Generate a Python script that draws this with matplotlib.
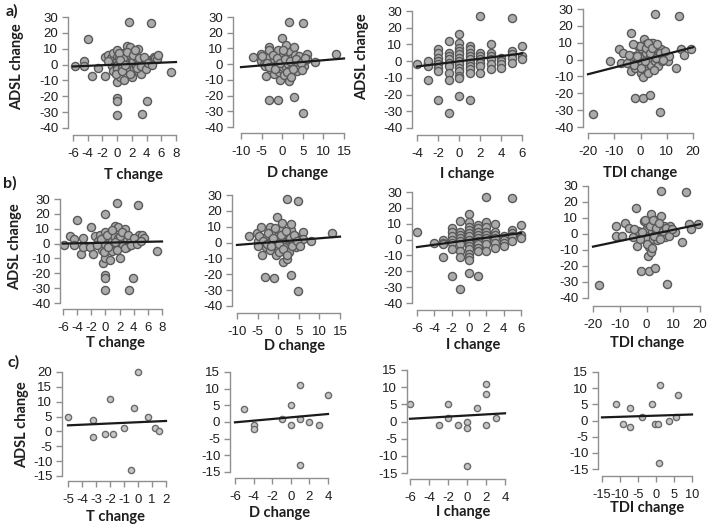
import numpy as np
import matplotlib
matplotlib.use('Agg')
import matplotlib.pyplot as plt

plt.rcParams['axes.unicode_minus'] = False

W, H = 708, 526

# ---- row a) ----
a_t_x = [-5.7, -4.5, -4.5, -4.0, -3.4, -2.6, -1.6, -1.6, -1.3, -1.0, -0.9, -0.7, -0.5, -0.5, -0.3,
         0, 0, 0, 0, 0, 0, 0, 0, 0, 0, 0.3, 0.4, 0.5, 0.6, 0.8, 0.9, 1.0, 1.1, 1.2, 1.3, 1.5,
         1.6, 1.6, 1.8, 1.8, 2.0, 2.0, 2.2, 2.3, 2.5, 2.5, 2.8, 2.9, 3.0, 3.2, 3.2, 3.4, 3.5,
         3.8, 4.1, 4.3, 4.5, 4.6, 4.7, 5.0, 5.2, 5.4, 5.6, 7.3,
         -1.2, -0.2, 0.2, 0.4, 0.7, 1.0, 1.4, 1.7, 2.1, 2.4, 2.7, 3.0, 3.3, 3.6, 3.9, 4.2, 4.8]
a_t_y = [-1, 2, -1, 16, -7, -2, -7, 5, 6, 2, 4, -1, 7, -4, 1,
         9, 5, 2, 0, -3, -6, -11, -21, -23, -32, 4, -8, 1, -2, 7, -10, 3, 5, -1, 12, -4,
         27, 1, 11, 6, -8, 3, 2, -2, -1, 5, 10, -4, 1, -6, 3, -31, 0,
         2, -23, 0, 3, 26, 3, 5, 4, 3.5, 6, -5,
         2, -6, 7, 3, -4, 0, 8, -6, 6, 9, -2, 4, -1, 5, -3, 1, 0]

a_d_x = [-7.2, -5.2, -5.2, -4.5, -4.2, -3.9, -3.5, -3.1, -3.1, -3.1, -2.6, -2.5, -2.0, -2.0,
         -1.5, -1.5, -1.1, -1.0, -0.9, -0.8, -0.5, -0.5, -0.1, 0, 0, 0.3, 0.3, 0.5, 0.9, 1.0,
         1.0, 1.2, 1.5, 1.7, 1.7, 2.0, 2.0, 2.3, 2.5, 2.9, 2.9, 3.0, 3.2, 3.5, 3.5, 3.9, 4.0,
         4.2, 5.0, 5.0, 5.3, 5.0, 6.0, 6.0, 8.0, 13.0,
         -4.8, -3.8, -3.2, -2.2, -1.8, -1.2, -0.6, 0.2, 0.6, 1.2, 1.8, 2.2, 2.6, 3.3, 4.5,
         4.8, 5.5]
a_d_y = [4.5, 6.5, 2, 0, -1, -7.5, 4, 11, 9, -22.5, -3.5, 1, 3, -6,
         6, -1, -22.5, 2, 9, -5, -10, 4, 16.5, 1, -3, -1.5, 6, -7, 12.5, 3,
         -2, 6, 0, 27, -11, 8, -4, 4, 1, 11, -21, -2, 6, -4.5, 2, 0.5, 5,
         -2, 26.5, -31, -1, 2, 6.5, 3, 1.5, 6.5,
         5, 1, -2, 6, -3, 4, 1, 9, 3, -5, 2, -8, -3, 3, 1, -4, 4]

a_i_x = [-4, -3, -3, -3, -3, -3, -2, -2, -2, -2, -2, -2, -2, -2,
         -1, -1, -1, -1, -1, -1, -1, -1, -1,
         0, 0, 0, 0, 0, 0, 0, 0, 0, 0, 0, 0, 0,
         1, 1, 1, 1, 1, 1, 1, 1, 1, 1,
         2, 2, 2, 2, 2, 2, 2, 3, 3, 3, 3, 3, 3, 4, 4, 4, 4,
         5, 5, 5, 5, 5, 6, 6, 6]
a_i_y = [-2, -1, -2, -3, 0, -11, 7, 5, 2, 0, -2, -4, -6, -23,
         12, 5, 3, 1, -1, -3, -7, -11, -31,
         16, 11, 8, 6, 4, 2, 0, -2, -4, -6, -9, -10, -21,
         9, 7, 5, 3, 1, -1, -3, -5, -7, -23,
         27, 5, 3, 1, -1, -3, -7, 10, 5, 3, 1, -2, -5, 2, 0, -2, -4,
         26, 6, 4, 2, -1, 9, 3, 1]

a_tdi_x = [-18.1, -11.7, -8.3, -6.7, -7.3, -5.0, -3.7, -3.5, -3.0, -2.2, -2.0, -1.0, -1.0, -0.5,
           0, 0, 0.5, 0.95, 1.0, 1.0, 1.3, 1.5, 2.0, 2.0, 2.5, 3.0, 3.0, 3.5, 3.5, 4.0, 4.0,
           4.8, 5.0, 5.4, 5.5, 6.0, 6.5, 7.0, 7.3, 7.9, 8.0, 9.0, 10.5, 11.0, 13.7, 14.5,
           15.3, 16.6, 19.4,
           -4.5, -2.5, -1.5, -0.2, 0.3, 1.8, 2.2, 2.8, 3.8, 4.5, 5.0, 5.8, 6.2, 7.5, 8.5, 9.5, -3.0]
a_tdi_y = [-32, -1, 6, 4, -2, -2, 16, -7, 2, -23, -5, 8, 0, 4,
           -3, -8, 6, -23, -10.5, 2, 12, -5, 9, 4, -2, 6, -8, -21, 1, 10, -3,
           10, 3, 27, -1, 7, -4, 2, -31, 6, -1, 3, -1, 2, -5, 26,
           6, 3, 6,
           3, -3, 2, 8, -5, -1, 7, 10, 4, 7, -6, 1, 9, 4, 0, 5, 9]

# ---- row b) ----
b_t_x = [-5.8, -5.0, -4.5, -4.5, -4.0, -3.5, -3.2, -3.2, -2.2, -2.0, -1.7, -1.5, -1.0, -0.8,
         -0.5, -0.4, -0.3, 0, 0, 0, 0, 0, 0, 0, 0, 0.3, 0.6, 0.6, 0.8, 1.0, 1.0, 1.2, 1.3,
         1.6, 1.6, 1.8, 1.8, 2.0, 2.2, 2.5, 2.7, 3.0, 3.0, 3.3, 3.5, 3.9, 4.2, 4.6, 4.8,
         5.2, 5.4, 7.3,
         -1.2, -0.6, -0.2, 0.2, 0.4, 0.9, 1.4, 1.7, 2.1, 2.4, 2.8, 3.2, 3.6, 4.0, 4.4, 5.0]
b_t_y = [-1, 5, 3, -1, 16, -7, 4, -2, -2, 11, -7, 5, 2, 6,
         -4, -13, 1, 20, 8, 4, 0, -10, -21, -23, -31.5, -3, -11, 3, 7, 2, -5, 5, 12,
         27, 0, 11, 4, -10, 2, -1, 10, -2, 3, -31, 1, -23, 2, 26, 6,
         6, 4, -5,
         -1, 3, -6, 6, -2, 9, 1, -4, 5, 8, -3, 6, -1, 4, 0, 2]

b_d_x = [-7.2, -5.2, -5.0, -4.2, -4.0, -3.5, -3.1, -3.0, -2.5, -2.1, -2.0, -1.5, -1.0, -1.0,
         -0.5, -0.2, 0, 0, 0.3, 0.5, 0.9, 1.0, 1.1, 1.5, 1.5, 2.1, 2.1, 2.5, 2.5, 3.0, 3.1,
         3.1, 3.5, 4.0, 4.2, 4.9, 4.9, 5.0, 6.0, 6.0, 7.9, 13.0,
         -4.6, -3.8, -2.8, -2.4, -1.7, -1.2, -0.7, 0.2, 0.7, 1.2, 1.8, 2.2, 2.8, 3.3, 3.8,
         4.5, 5.4, -5.0]
b_d_y = [4.3, 6.2, 1, 10, -7.9, 3, -22, -3, 0, 10, -5, 6, -22.6, 2,
         -8, 16.3, 4, -2, -6, 8, 12.5, 1, -12, 5, -3, 27.3, -10.6, 2, -6, 8, 11.5,
         -20.5, 0, 4, -3, 26, -30.4, -1, 6.4, 2, 1.2, 6.2,
         4, 1, -1, 6, -2, 3, 9, -1, 5, -4, 7, -8, 3, -2, 5, 1, -2, -2]

b_i_x = [-6, -4, -3, -3, -3, -3, -2, -2, -2, -2, -2, -2, -2,
         -1, -1, -1, -1, -1, -1, -1, -1, -1,
         0, 0, 0, 0, 0, 0, 0, 0, 0, 0, 0, 0, 0, 0,
         1, 1, 1, 1, 1, 1, 1, 1, 1, 1,
         2, 2, 2, 2, 2, 2, 2, 2, 2, 3, 3, 3, 3, 3, 3, 4, 4, 4, 4,
         5, 5, 5, 5, 5, 6, 6, 6]
b_i_y = [5, -2, 0, -2, -3, -11, 7, 5, 2, 0, -2, -6, -23,
         12, 5, 3, 1, -1, -3, -7, -11, -31,
         16, 11, 8, 6, 4, 2, 0, -2, -4, -6, -9, -11, -13, -21,
         9, 7, 5, 3, 1, -1, -3, -5, -7, -23,
         27, 11, 8, 5, 3, 1, -1, -3, -7, 10, 5, 3, 1, -2, -5, 2, 0, -2, -4,
         26, 6, 4, 2, -1, 9, 3, 1]

b_tdi_x = [-17.9, -11.3, -11.3, -8.1, -9.1, -6.6, -5.0, -4.0, -3.4, -3.0, -1.9, -1.0, -1.0,
           0, 0, 0.5, 0.6, 0.9, 1.0, 1.6, 1.6, 2.0, 2.5, 3.0, 3.1, 3.5, 4.0, 4.0, 5.0, 5.6,
           5.6, 6.0, 6.5, 7.0, 7.5, 8.0, 8.8, 10.6, 13.4, 14.8, 15.9, 16.5, 19.4,
           -4.5, -2.5, -1.5, -0.4, 0.3, 1.2, 2.3, 2.8, 3.6, 4.5, 5.2, 6.2, 7.4, 8.4, 9.4, 2.0]
b_tdi_y = [-32, 5, -1, 6.7, -1, 3.6, -2, 16, -7.4, 2, -23, 8, 0,
           -3, 4, 6, -13.7, -23, -8, -11, 12.5, 2, -3, 7, -21, 1, 9, -4, 3, 27,
           11, -1, 5, -2, -31, 2, 5, 1.5, -5, 26, 6.3, 3, 6,
           3, -3, 1, 9, -6, 5, 9, -1, 4, 7, -3, 2, 4, -1, 3, -9]

# ---- row c) ----
c_t_x = [-5.0, -3.25, -3.25, -2.33, -1.79, -2.0, -1.0, -0.5, -0.26, 0.0, 0.71, 1.19, 1.48]
c_t_y = [5, 4, -2, -1, -1, 11, 1, -13, 8, 20, 5, 1, 0]

c_d_x = [-5, -4, -4, -1, 0, 0, 1, 1, 1, 2, 3, 4]
c_d_y = [4, -1, -2, 1, 5, -1, 11, 1, -13, 0, -1, 8]

c_i_x = [-6, -2, -2, -3, -1, 0, 0, 0, 1, 2, 2, 2, 3]
c_i_y = [5, 5, 1, -1, -1, 0, -2, -13, 4, 11, 8, -1, 1]

c_tdi_x = [-11.0, -9.2, -7.1, -7.1, -3.9, -1.1, -0.2, 0.6, 0.7, 1.2, 3.7, 5.6, 6.0]
c_tdi_y = [5, -1, 4, -2, 1, 5, -1, -1, -13, 11, 0, 1, 8]

# fitted lines: (slope, intercept)
fit_a = [(0.20, 0.0), (0.22, 0.3), (0.78, -0.1), (0.40, -0.7)]
fit_b = [(0.10, 0.6), (0.21, 0.6), (0.74, -0.3), (0.35, -0.9)]
fit_c = [(0.21, 3.1), (0.25, 1.4), (0.16, 1.75), (0.036, 1.5)]

xlabels = ['T change', 'D change', 'I change', 'TDI change']
big_yticks = list(range(-40, 31, 10))

AXC = '#8f8f8f'
TXT = '#1e1e1e'
BOLD = ['Lato', 'DejaVu Sans']


def add_panel(fig, box, xticks, yticks, xs, ys, fit, small=False, xfs=9.5):
    # box: y-axis px, x-axis px, first/last x tick px, top/bottom y tick px
    left, bottom, x0, x1, y0, y1 = box
    sx = (x1 - x0) / (xticks[-1] - xticks[0])
    sy = (y1 - y0) / (yticks[-1] - yticks[0])
    right = x1 + 4
    top = y0 - 4
    ax = fig.add_axes([left / W, 1 - bottom / H, (right - left) / W, (bottom - top) / H])
    ax.set_xlim(xticks[0] - (x0 - left) / sx, xticks[-1] + (right - x1) / sx)
    ax.set_ylim(yticks[0] - (bottom - y1) / sy, yticks[-1] + (y0 - top) / sy)
    ax.patch.set_alpha(0)

    if small:
        ax.scatter(xs, ys, s=20, c='#c6c6c6', edgecolors='#6a6a6a', linewidths=1.0,
                   clip_on=False, zorder=2)
    else:
        ax.scatter(xs, ys, s=34, c='#ababab', edgecolors='#595959', linewidths=1.0,
                   clip_on=False, zorder=2)
    m, b = fit
    xx = np.array([xticks[0], xticks[-1]])
    ax.plot(xx, m * xx + b, color='#1a1a1a', lw=1.6, zorder=3)

    for s in ['top', 'right']:
        ax.spines[s].set_visible(False)
    ax.spines['left'].set_bounds(yticks[0], yticks[-1])
    ax.spines['bottom'].set_bounds(xticks[0], xticks[-1])
    for s in ['left', 'bottom']:
        ax.spines[s].set_color(AXC)
        ax.spines[s].set_linewidth(1.0)
    ax.set_xticks(xticks)
    ax.set_yticks(yticks)
    ax.tick_params(direction='out', length=4.5, width=1.0, color=AXC,
                   labelcolor=TXT, labelsize=9.5)
    ax.tick_params(axis='x', pad=5, labelsize=xfs)
    ax.tick_params(axis='y', pad=2.5)
    for lab in ax.get_xticklabels() + ax.get_yticklabels():
        lab.set_fontfamily('Liberation Sans')
    return ax


fig = plt.figure(figsize=(W / 100, H / 100), dpi=100)

# row a
add_panel(fig, (68, 135, 73, 176, 17, 128), list(range(-6, 9, 2)), big_yticks, a_t_x, a_t_y, fit_a[0])
add_panel(fig, (233, 133, 241, 344, 17, 127), list(range(-10, 16, 5)), big_yticks, a_d_x, a_d_y, fit_a[1])
add_panel(fig, (412, 135, 417, 522, 11, 128), list(range(-4, 7, 2)), big_yticks, a_i_x, a_i_y, fit_a[2])
add_panel(fig, (583, 133, 588, 693, 9, 127), list(range(-20, 21, 10)), big_yticks, a_tdi_x, a_tdi_y, fit_a[3])

# row b
add_panel(fig, (60, 309, 63, 162, 199, 303), list(range(-6, 9, 2)), big_yticks, b_t_x, b_t_y, fit_b[0])
add_panel(fig, (232, 313, 237, 340, 195, 306), list(range(-10, 16, 5)), big_yticks, b_d_x, b_d_y, fit_b[1])
add_panel(fig, (412, 310, 417, 521, 192, 303), list(range(-6, 7, 2)), big_yticks, b_i_x, b_i_y, fit_b[2])
add_panel(fig, (588, 306, 593, 700, 186, 298), list(range(-20, 21, 10)), big_yticks, b_tdi_x, b_tdi_y, fit_b[3])

# row c
add_panel(fig, (62, 481, 68, 166, 372, 476), list(range(-5, 3, 1)), list(range(-15, 21, 5)),
          c_t_x, c_t_y, fit_c[0], small=True)
add_panel(fig, (230, 478, 235, 328, 372, 472), list(range(-6, 5, 2)), list(range(-15, 16, 5)),
          c_d_x, c_d_y, fit_c[1], small=True)
add_panel(fig, (407, 479, 410, 505, 370, 473), list(range(-6, 5, 2)), list(range(-15, 16, 5)),
          c_i_x, c_i_y, fit_c[2], small=True)
add_panel(fig, (598, 476, 602, 692, 372, 469), list(range(-15, 11, 5)), list(range(-15, 16, 5)),
          c_tdi_x, c_tdi_y, fit_c[3], small=True, xfs=9.2)

# x axis titles (pixel centres)
xlab_pos = [[(133, 175), (298, 173), (467, 174), (640, 173)],
            [(115, 343), (295, 346), (473, 345), (647, 343)],
            [(115, 517), (280, 513), (463, 512), (647, 508)]]
for row in xlab_pos:
    for (px, py), lab in zip(row, xlabels):
        fig.text(px / W, 1 - py / H, lab, ha='center', va='center', fontsize=10.5,
                 fontweight='bold', family=BOLD, color=TXT)

# y axis titles
for px, py in [(17, 67), (362, 57), (15, 247), (22, 425)]:
    fig.text(px / W, 1 - py / H, 'ADSL change', ha='center', va='center', rotation=90,
             fontsize=10.5, fontweight='bold', family=BOLD, color=TXT)

# panel letters
for px, py, lab in [(12, 11, 'a)'), (10, 183, 'b)'), (14, 362, 'c)')]:
    fig.text(px / W, 1 - py / H, lab, ha='center', va='center', fontsize=11.5,
             fontweight='bold', family=BOLD, color=TXT)

fig.savefig('out.png', dpi=100)
